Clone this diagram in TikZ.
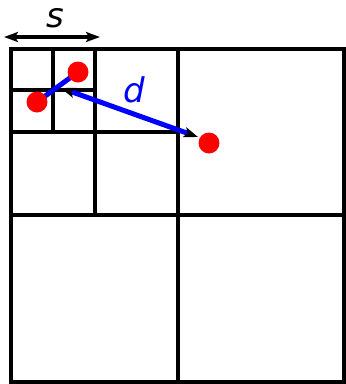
\documentclass[tikz,border=0pt]{standalone}
\usepackage{fontspec}
\setmainfont{DejaVu Sans}
\usetikzlibrary{arrows.meta}
\begin{document}
\begin{tikzpicture}[x=1pt,y=-1pt,
  >={Stealth[color=black,length=14pt,width=10pt,inset=3pt]},
  gridline/.style={line width=4pt,black},
  dot/.style={circle,fill=red,minimum size=21pt,inner sep=0pt},
  lbl/.style={font=\fontsize{34}{34}\selectfont\itshape,inner sep=0pt}
]
\useasboundingbox (0,0) rectangle (346,384);
% grid
\draw[gridline] (11,49) rectangle (344,382);
\draw[gridline] (178,49) -- (178,382);
\draw[gridline] (11,215) -- (344,215);
\draw[gridline] (95,49) -- (95,215);
\draw[gridline] (11,132) -- (178,132);
\draw[gridline] (53,49) -- (53,132);
\draw[gridline] (11,90) -- (95,90);
% s arrow
\coordinate (sl) at (4,37);
\coordinate (sr) at (100,37);
\draw[line width=3.5pt,<->] (sl) -- (sr);
\node[lbl,black] (s) at (55,18) {s};
% points
\coordinate (c1) at (78,72);
\coordinate (c2) at (37,102);
\draw[line width=5pt,blue] (c1) -- (c2);
\node[dot] (p1) at (c1) {};
\node[dot] (p2) at (c2) {};
\node[dot] (p3) at (209,143) {};
\coordinate (m) at (61,88);
\coordinate (q) at (198,137);
\draw[line width=5pt,blue,<->] (m) -- (q);
\node[lbl,blue] (d) at (134,90) {d};
\end{tikzpicture}
\end{document}
